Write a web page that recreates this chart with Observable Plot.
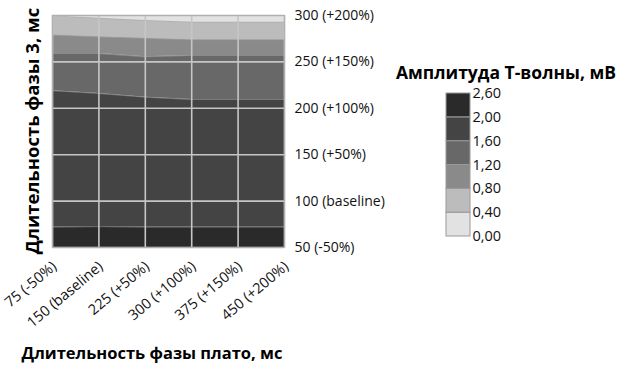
<!DOCTYPE html>
<html><head><meta charset="utf-8">
<script src="https://cdn.jsdelivr.net/npm/d3@7"></script>
<script src="https://cdn.jsdelivr.net/npm/@observablehq/plot@0.6"></script>
<style>
body{margin:0;background:#fff;}
#wrap{position:relative;width:629px;height:368px;overflow:hidden;font-family:"Open Sans",sans-serif;}
#legend{position:absolute;left:446px;top:83px;}
</style>
</head><body><div id="wrap"><div id="main"></div><div id="legend"></div></div>
<script>
// Plateau phase duration (x), ms
const plateau = [75, 150, 225, 300, 375, 450];
const plateauLabels = ["75 (-50%)", "150 (baseline)", "225 (+50%)", "300 (+100%)", "375 (+150%)", "450 (+200%)"];
// Phase 3 duration (y), ms
const phase3Ticks = [50, 100, 150, 200, 250, 300];
const phase3Labels = ["50 (-50%)", "100 (baseline)", "150 (+50%)", "200 (+100%)", "250 (+150%)", "300 (+200%)"];
// T-wave amplitude levels, mV
const levels = [0.0, 0.4, 0.8, 1.2, 1.6, 2.0, 2.6];
const levelLabels = ["0,00", "0,40", "0,80", "1,20", "1,60", "2,00", "2,60"];
const bandColors = ["#e2e2e2", "#bcbcbc", "#8a8a8a", "#686868", "#444444", "#2a2a2a"];
// Iso-amplitude lines: phase 3 duration where amplitude crosses each level, per plateau value
const iso040 = [299.5, 297, 294.6, 292.8, 292.8, 292.8];
const iso080 = [279, 277, 275.5, 274, 274, 274];
const iso120 = [259, 259, 255.5, 257, 257, 257];
const iso160 = [219, 216, 212, 209.5, 209.5, 209.5];
const iso200 = [72, 72.5, 72, 72, 72, 72];
const yMin = 50, yMax = 300;

const FONT = "'Open Sans', sans-serif";

// build bands (upper/lower boundaries per plateau value)
const bounds = [Array(6).fill(yMax), iso040, iso080, iso120, iso160, iso200, Array(6).fill(yMin)];
const bandRows = [];
for (let b = 0; b < 6; b++) {
  plateau.forEach((x, i) => {
    bandRows.push({plateau: x, top: bounds[b][i], bottom: bounds[b + 1][i], amp: (levels[b] + levels[b + 1]) / 2, band: b});
  });
}
const isoRows = [];
[iso040, iso080, iso120, iso160, iso200].forEach((arr, k) => {
  plateau.forEach((x, i) => isoRows.push({plateau: x, y: arr[i], level: k}));
});

const colorScale = {type: "threshold", domain: levels.slice(1, -1), range: bandColors};

const main = Plot.plot({
  width: 629, height: 368,
  marginLeft: 52, marginRight: 345, marginTop: 15, marginBottom: 121,
  style: {fontFamily: FONT, background: "transparent"},
  x: {domain: [75, 450]},
  y: {domain: [yMin, yMax]},
  color: colorScale,
  marks: [
    Plot.areaY(bandRows, {x: "plateau", y1: "bottom", y2: "top", z: "band", fill: "amp"}),
    Plot.line(isoRows, {x: "plateau", y: "y", z: "level", stroke: "#a8a8a8", strokeWidth: 0.8, strokeOpacity: 0.7}),
    Plot.gridX(plateau, {stroke: "#c6c6c6", strokeOpacity: 1, strokeWidth: 1.6}),
    Plot.gridY(phase3Ticks, {stroke: "#c6c6c6", strokeOpacity: 1, strokeWidth: 1.6}),
    Plot.frame({stroke: "#b0b0b0", strokeWidth: 1.2}),
    Plot.axisX(plateau, {tickSize: 0, tickPadding: 17, dx: 2, tickRotate: -40, fontSize: 14.5, fill: "#111",
      tickFormat: d => plateauLabels[plateau.indexOf(d)], label: null}),
    Plot.axisY(phase3Ticks, {anchor: "right", tickSize: 0, tickPadding: 10, fontSize: 14, fill: "#111",
      tickFormat: d => phase3Labels[phase3Ticks.indexOf(d)], label: null})
  ]
});
document.getElementById("main").appendChild(main);

const svg = d3.select(main);
svg.append("text").attr("transform", "translate(39,131) rotate(-90)")
  .attr("text-anchor", "middle").attr("font-size", 18.5).attr("font-weight", "bold").attr("fill", "#000")
  .attr("font-family", FONT).text("Длительность фазы 3, мс");
svg.append("text").attr("x", 152).attr("y", 359)
  .attr("text-anchor", "middle").attr("font-size", 16.5).attr("font-weight", "bold").attr("fill", "#000")
  .attr("font-family", FONT).text("Длительность фазы плато, мс");
svg.append("text").attr("x", 506).attr("y", 79)
  .attr("text-anchor", "middle").attr("font-size", 17.5).attr("font-weight", "bold").attr("fill", "#000")
  .attr("font-family", FONT).text("Амплитуда Т-волны, мВ");

// vertical legend
const legendRows = bandColors.map((c, i) => ({i, amp: (levels[i] + levels[i + 1]) / 2}));
const legend = Plot.plot({
  width: 74, height: 163,
  marginLeft: 0, marginRight: 50, marginTop: 10, marginBottom: 10,
  style: {fontFamily: FONT, background: "transparent", overflow: "visible"},
  x: {domain: [0, 1], axis: null},
  y: {domain: [0, 6]},
  color: colorScale,
  marks: [
    Plot.rect(legendRows, {x1: 0, x2: 1, y1: "i", y2: d => d.i + 1, fill: "amp", stroke: "#9a9a9a", strokeWidth: 1}),
    Plot.axisY(d3.range(7), {anchor: "right", tickSize: 0, tickPadding: 2, fontSize: 14.5, fill: "#111",
      tickFormat: d => levelLabels[d], label: null})
  ]
});
document.getElementById("legend").appendChild(legend);
</script>
</body></html>
